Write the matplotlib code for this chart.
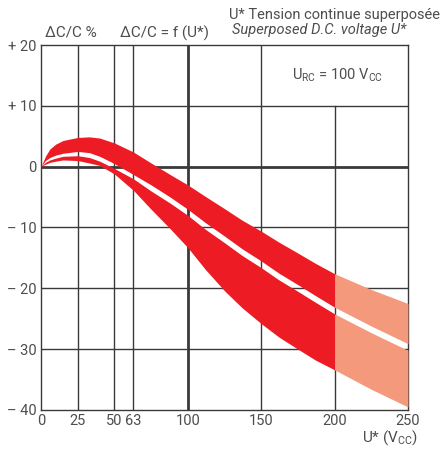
import matplotlib
matplotlib.use("Agg")
import matplotlib.pyplot as plt
import numpy as np

plt.rcParams['font.family'] = ['Roboto', 'DejaVu Sans']
plt.rcParams['mathtext.fontset'] = 'custom'
plt.rcParams['mathtext.rm'] = 'Roboto'
plt.rcParams['mathtext.it'] = 'Roboto:italic'

# U* (Vcc) and the four edges of the two tolerance bands (dC/C in %)
u = [0, 3, 6, 10, 15, 25, 33, 40, 50, 63, 75, 88, 100, 112, 125, 137, 150, 162, 175, 187,
     200, 225, 250]
upper_hi = [0, 1.7, 2.9, 3.7, 4.3, 4.8, 4.9, 4.7, 3.9, 2.4, 0.6, -1.3, -3.0, -4.9, -6.9,
            -8.8, -10.6, -12.4, -14.2, -15.9, -17.6, -20.2, -22.5]
upper_lo = [0, 1.0, 1.5, 1.9, 2.2, 2.5, 2.3, 1.7, 0.5, -1.3, -3.0, -5.0, -7.0, -9.2, -11.4,
            -13.5, -15.5, -17.5, -19.4, -21.2, -23.1, -26.2, -29.1]
lower_hi = [0, 0.7, 1.1, 1.4, 1.7, 1.8, 1.5, 0.9, -0.3, -2.0, -4.0, -6.0, -8.0, -10.3, -12.5,
            -14.6, -16.6, -18.6, -20.5, -22.3, -24.2, -27.3, -30.2]
lower_lo = [0, 0.4, 0.7, 0.9, 1.1, 1.0, 0.6, 0.2, -1.2, -3.9, -7.0, -10.2, -13.3, -16.9, -20.4,
            -23.2, -25.8, -28.0, -30.0, -31.8, -33.4, -36.6, -39.5]
u_rated = 200  # beyond this the bands are drawn lighter

x_ticks = [0, 25, 50, 63, 100, 150, 200, 250]
y_ticks = [20, 10, 0, -10, -20, -30, -40]
y_labels = ['+ 20', '+ 10', '0', '\u2013 10', '\u2013 20', '\u2013 30', '\u2013 40']

red = '#ed1c24'
salmon = '#f4997b'
grid_col = '#3a3a3a'
txt_col = '#4d4d4d'

fig = plt.figure(figsize=(4.41, 4.50), dpi=100)
ax = fig.add_axes([0.093, 0.089, 0.832, 0.811])
ax.set_xlim(0, 250)
ax.set_ylim(-40, 20)

u_arr = np.array(u)
for hi, lo in [(upper_hi, upper_lo), (lower_hi, lower_lo)]:
    hi = np.array(hi)
    lo = np.array(lo)
    ax.fill_between(u_arr, hi, lo, where=u_arr <= u_rated, color=red, lw=0, zorder=3)
    ax.fill_between(u_arr, hi, lo, where=u_arr >= u_rated, color=salmon, lw=0, zorder=3)

# grid; the 200 line stops under the U_RC box
for xv in x_ticks[1:-1]:
    lw = 2.0 if xv == 100 else 1.0
    top = (10 + 40) / 60 if xv == 200 else 1
    ax.axvline(xv, ymax=top, color=grid_col, lw=lw, zorder=1)
for yv in y_ticks[1:-1]:
    lw = 2.0 if yv == 0 else 1.0
    ax.axhline(yv, color=grid_col, lw=lw, zorder=1)

for s in ax.spines.values():
    s.set_color(grid_col)
    s.set_linewidth(1.0)

ax.set_xticks(x_ticks)
ax.set_yticks(y_ticks)
ax.set_yticklabels(y_labels)
ax.tick_params(length=0, labelsize=10.5, labelcolor=txt_col, pad=3)

ax.text(0.683, 0.918, r'U$_{\mathrm{RC}}$ = 100 V$_{\mathrm{CC}}$', transform=ax.transAxes,
        fontsize=10.5, color=txt_col, ha='left', va='center')

fig.text(0.103, 0.927, '\u0394C/C %', fontsize=11, color=txt_col, ha='left', va='center')
fig.text(0.272, 0.927, '\u0394C/C = f (U*)', fontsize=11, color=txt_col, ha='left', va='center')
fig.text(0.998, 0.967, 'U* Tension continue superpos\u00e9e', fontsize=10.5, color=txt_col,
         ha='right', va='center')
fig.text(0.526, 0.933, 'Superposed D.C. voltage U*', fontsize=10.5, color=txt_col,
         ha='left', va='center', style='italic')
fig.text(0.948, 0.028, r'U* (V$_{\mathrm{CC}}$)', fontsize=11, color=txt_col, ha='right', va='center')

fig.savefig('out.png', dpi=100, facecolor='white')
